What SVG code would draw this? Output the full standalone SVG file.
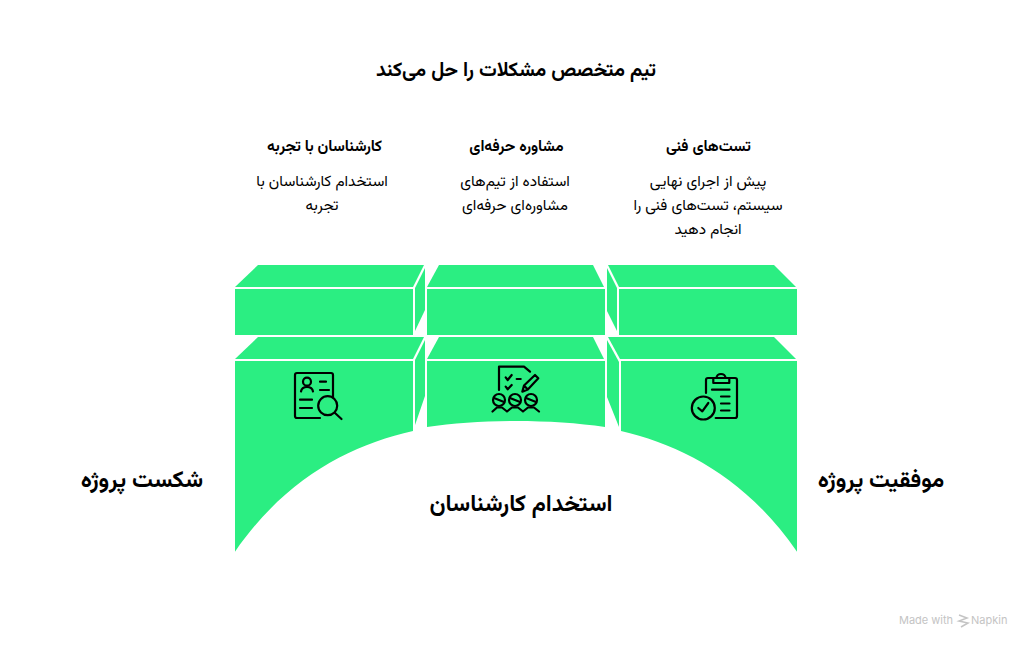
<svg xmlns="http://www.w3.org/2000/svg" width="1032" height="648" viewBox="0 0 1032 648">
<style>
text{font-family:"Vazirmatn","Noto Sans",sans-serif;text-anchor:middle;direction:rtl;fill:#000}
.t{font-size:19.800px;font-weight:700}
.h{font-size:15.400px;font-weight:700}
.d{font-size:15.300px}
.l{font-size:23px;font-weight:700}
.g{fill:#2bee82}
.i{fill:none;stroke:#000;stroke-width:2.200;stroke-linecap:round;stroke-linejoin:round}
.w{font-family:"Inter",sans-serif;font-size:11px;fill:#c4c4c4;direction:ltr;text-anchor:start}
</style>
<rect width="1032" height="648" fill="#fff"/>
<text class="t" x="516" y="76">تیم متخصص مشکلات را حل می‌کند</text>
<g id="block-top-left" class="g">
<polygon points="235,287 258,265 424,265 413,287"/>
<polygon points="415,288 425,268 425,310 415,331"/>
<rect x="235" y="289" width="178" height="46"/>
</g>
<g id="block-top-mid" class="g">
<polygon points="427,287 439,265 593,265 604,287"/>
<rect x="427" y="289" width="178" height="46"/>
</g>
<g id="block-top-right" class="g">
<polygon points="608,265 774,265 796,287 619,287"/>
<polygon points="607,268 617,288 617,331 607,311"/>
<rect x="619" y="289" width="178" height="46"/>
</g>
<g id="block-experts" class="g">
<polygon points="235,359 258,337 424,337 413,359"/>
<polygon points="415,360 425,340 425,396 415,425"/>
<path d="M235,361H413V431C350,445 285,479 235,551.700Z"/>
</g>
<g id="block-consult" class="g">
<polygon points="427,359 439,337 593,337 604,359"/>
<path d="M427,361H605V427C552,419 480,419 427,427Z"/>
</g>
<g id="block-tests" class="g">
<polygon points="608,337 774,337 796,359 620,359"/>
<polygon points="607,340 619,362 619,427 607,397"/>
<path d="M621,361H797V551.700C747,479 682,445 621,431Z"/>
</g>
<g id="icon-search" class="i">
<path d="M333,397V375a2,2 0 0 0-2-2H297a2,2 0 0 0-2,2V416a2,2 0 0 0 2,2H320"/>
<circle cx="307" cy="381.700" r="4"/>
<path d="M301,391.500c1-6 11-6 12,0"/>
<path d="M320,381.700H326M320,390H329M300,399.700H312M300,408H312"/>
<circle cx="327.700" cy="405.700" r="9.500"/>
<path d="M335,413L341.500,419"/>
</g>
<g id="icon-team" class="i">
<path d="M499,390V366.700H524L530,371.700"/>
<path d="M505.700,377.300L507.700,380L511.700,375M505.700,386.700L507.700,389.300L511.700,385M516.700,379H520.700"/>
<path d="M522.300,391.700L524,385.500L535,375L538.300,378.300L527.800,389.500ZM524,385.500L527.800,389.500"/>
<circle cx="499" cy="400" r="6"/><circle cx="515" cy="400" r="6"/><circle cx="531" cy="400" r="6"/>
<path d="M494,398L504,402M510,398L520,402M526,398L536,402"/>
<path d="M492.500,411.500L497,407.500H502L507,411.500L512,407.500H518L523,411.500L528,407.500H534L539,411.500"/>
</g>
<g id="icon-clipboard" class="i">
<path d="M706,393V380a2,2 0 0 1 2-2H735a2,2 0 0 1 2,2V416a2,2 0 0 1-2,2H715.700"/>
<path d="M713.300,378V383H729.300V378H725.500a4.500,4 0 0 0-9,0Z"/>
<path d="M712,389.700H729.500M721,396.500H729.500M721,403.500H729.500M721,410.500H729.500"/>
<circle cx="703.300" cy="408" r="11.500"/>
<path d="M698.300,408L702.300,411.300L708.300,403"/>
</g>
<text class="h" x="324.500" y="151">کارشناسان با تجربه</text>
<text class="d" x="322" y="186">استخدام کارشناسان با</text>
<text class="d" x="322" y="210">تجربه</text>
<text class="h" x="516.500" y="151">مشاوره حرفه‌ای</text>
<text class="d" x="515" y="186">استفاده از تیم‌های</text>
<text class="d" x="515" y="210">مشاوره‌ای حرفه‌ای</text>
<text class="h" x="708.500" y="151">تست‌های فنی</text>
<text class="d" x="708" y="186">پیش از اجرای نهایی</text>
<text class="d" x="708" y="210">سیستم، تست‌های فنی را</text>
<text class="d" x="708" y="234">انجام دهید</text>
<text class="l" x="142" y="487">شکست پروژه</text>
<text class="l" x="881" y="487">موفقیت پروژه</text>
<text class="l" x="521" y="511">استخدام کارشناسان</text>
<g id="watermark">
<text class="w" x="899" y="624">Made with</text>
<path d="M959,615L967,618L959,621L968,623L961,627" fill="none" stroke="#c4c4c4" stroke-width="1.500"/>
<text class="w" x="971" y="624">Napkin</text>
</g>
</svg>
